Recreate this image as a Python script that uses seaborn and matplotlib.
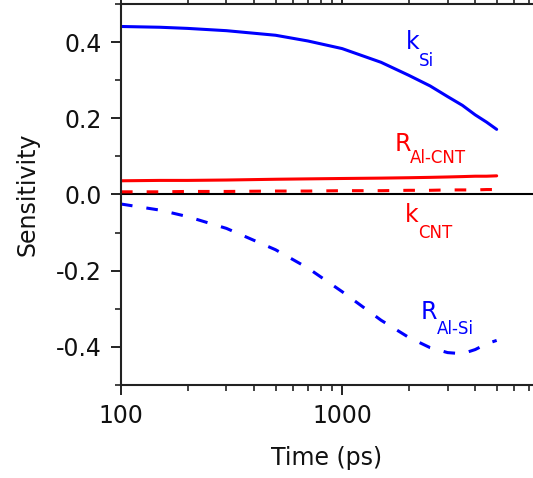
import numpy as np
import pandas as pd
import matplotlib
matplotlib.use("Agg")
import matplotlib.pyplot as plt
import matplotlib.ticker as mticker
import seaborn as sns

time_ps = [100, 150, 200, 300, 500, 700, 1000, 1500, 2000, 2500, 3000, 3500, 4000, 4500, 5000]
k_si = [0.441, 0.439, 0.436, 0.430, 0.418, 0.403, 0.383, 0.347, 0.313, 0.285, 0.257, 0.234, 0.209, 0.190, 0.171]
r_al_cnt = [0.036, 0.037, 0.037, 0.038, 0.040, 0.041, 0.042, 0.043, 0.044, 0.045, 0.046, 0.047, 0.048, 0.048, 0.049]
k_cnt = [0.007, 0.007, 0.008, 0.008, 0.009, 0.009, 0.010, 0.010, 0.011, 0.011, 0.012, 0.012, 0.012, 0.013, 0.013]
r_al_si = [-0.025, -0.041, -0.058, -0.089, -0.145, -0.193, -0.255, -0.330, -0.375, -0.402, -0.415, -0.418, -0.407, -0.392, -0.383]

series_names = ["k_Si", "R_Al-CNT", "k_CNT", "R_Al-Si"]
series_vals = [k_si, r_al_cnt, k_cnt, r_al_si]
series_colors = {"k_Si": "#0000ff", "R_Al-CNT": "#ff0000", "k_CNT": "#ff0000", "R_Al-Si": "#0000ff"}
series_dash = {"k_Si": "", "R_Al-CNT": "", "k_CNT": (3.8, 4.6), "R_Al-Si": (3.8, 4.6)}

df = pd.concat([pd.DataFrame({"time": time_ps, "value": v, "series": n})
                for n, v in zip(series_names, series_vals)], ignore_index=True)

sns.set_style("ticks")
plt.rcParams["font.family"] = ["DejaVu Sans"]

fig = plt.figure(figsize=(5.33, 4.78), dpi=100)
ax = fig.add_axes([0.227, 0.1946, 0.773, 0.797])

sns.lineplot(data=df, x="time", y="value", hue="series", style="series",
             palette=series_colors, dashes=series_dash, linewidth=2.2,
             legend=False, ax=ax, estimator=None, sort=True)

ax.axhline(0, color="black", lw=1.5, zorder=1)
ax.set_xscale("log")
ax.set_xlim(100, 7300)
ax.set_ylim(-0.5, 0.5)

ax.xaxis.set_major_locator(mticker.FixedLocator([100, 1000]))
ax.xaxis.set_major_formatter(mticker.FixedFormatter(["100", "1000"]))
ax.xaxis.set_minor_locator(mticker.LogLocator(base=10, subs=np.arange(2, 10)))
ax.xaxis.set_minor_formatter(mticker.NullFormatter())
ax.yaxis.set_major_locator(mticker.MultipleLocator(0.2))
ax.yaxis.set_minor_locator(mticker.MultipleLocator(0.1))
ax.yaxis.set_major_formatter(mticker.FormatStrFormatter("%.1f"))

for s in ["left", "bottom", "top"]:
    ax.spines[s].set_linewidth(1.5)
    ax.spines[s].set_color("#222222")
ax.spines["right"].set_visible(False)

ax.tick_params(axis="both", which="major", direction="out", length=7.5, width=1.4,
               labelsize=17, colors="#222222", labelcolor="#111111")
ax.tick_params(axis="both", which="minor", direction="out", length=4.5, width=1.2, colors="#222222")
ax.tick_params(axis="x", top=True, which="both")
ax.tick_params(axis="x", which="major", pad=6)
ax.tick_params(axis="y", which="major", pad=6)

ax.set_xlabel("Time (ps)", fontsize=17, labelpad=13, color="#111111")
ax.set_ylabel("Sensitivity", fontsize=17, labelpad=12, color="#111111")

def lab(x, y, main, sub, color, fx, dy):
    ax.text(x, y, main, color=color, fontsize=17, ha="left", va="center")
    ax.text(x * fx, y + dy, sub, color=color, fontsize=12, ha="left", va="center")

lab(1940, 0.40, "k", "Si", "#0000ff", 1.145, -0.05)
lab(1720, 0.133, "R", "Al-CNT", "#ff0000", 1.18, -0.038)
lab(1925, -0.053, "k", "CNT", "#ff0000", 1.145, -0.048)
lab(2265, -0.308, "R", "Al-Si", "#0000ff", 1.19, -0.044)

fig.savefig("out.png", dpi=100)
